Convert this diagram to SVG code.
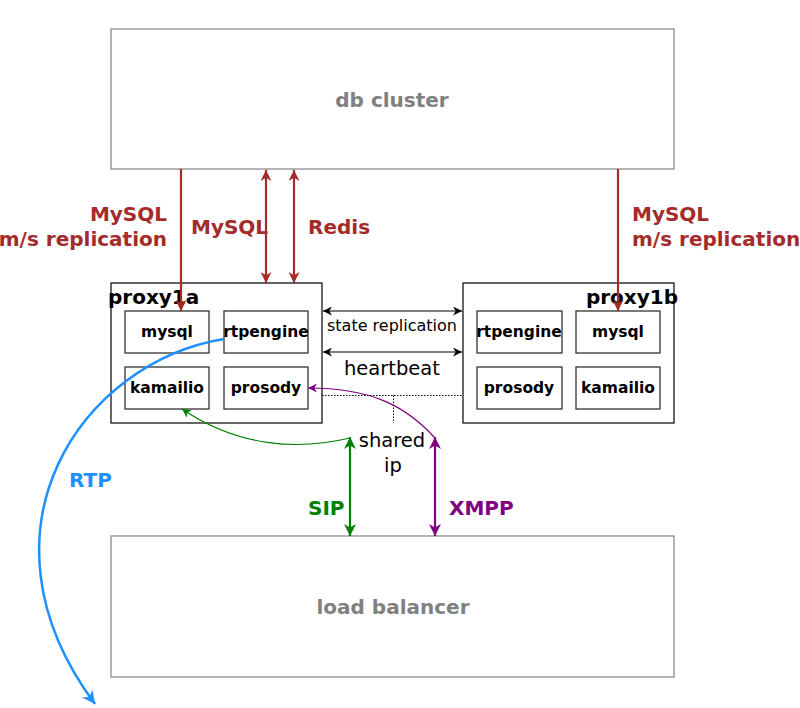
<svg xmlns="http://www.w3.org/2000/svg" width="800" height="708" viewBox="0 0 800 708">
<style>
text{font-family:"DejaVu Sans","Liberation Sans",sans-serif}
.big{fill:none;stroke:#8c8c8c;stroke-width:1.3}
.box{fill:#fff;stroke:#000;stroke-width:1.2}
.sub{fill:#fff;stroke:#222;stroke-width:1.2}
.bt{font-size:20px;font-weight:bold;fill:#808080;text-anchor:middle}
.pt{font-size:20px;font-weight:bold;fill:#000}
.st{font-size:15.5px;font-weight:bold;fill:#000;text-anchor:middle}
.red{stroke:#a52a2a;stroke-width:2.2;fill:none}
.rl{font-size:20px;font-weight:bold;fill:#a52a2a}
.blk{stroke:#000;stroke-width:1.1;fill:none}
.dot{stroke:#000;stroke-width:1;stroke-dasharray:1.5,1.5;fill:none}
.nt{fill:#000;text-anchor:middle}
</style>
<defs>
<marker id="ar" viewBox="0 0 10 10" refX="10" refY="5" markerWidth="12" markerHeight="11" markerUnits="userSpaceOnUse" orient="auto-start-reverse"><path d="M0,0 L10,5 L0,10 L3,5 z" fill="#a52a2a"/></marker>
<marker id="ak" viewBox="0 0 10 10" refX="10" refY="5" markerWidth="10" markerHeight="9" markerUnits="userSpaceOnUse" orient="auto-start-reverse"><path d="M0,0 L10,5 L0,10 L3,5 z" fill="#000"/></marker>
<marker id="ag" viewBox="0 0 10 10" refX="10" refY="5" markerWidth="13" markerHeight="12" markerUnits="userSpaceOnUse" orient="auto-start-reverse"><path d="M0,0 L10,5 L0,10 L3,5 z" fill="#008000"/></marker>
<marker id="ap" viewBox="0 0 10 10" refX="10" refY="5" markerWidth="13" markerHeight="12" markerUnits="userSpaceOnUse" orient="auto-start-reverse"><path d="M0,0 L10,5 L0,10 L3,5 z" fill="#800080"/></marker>
<marker id="ags" viewBox="0 0 10 10" refX="10" refY="5" markerWidth="9" markerHeight="9" markerUnits="userSpaceOnUse" orient="auto"><path d="M0,0 L10,5 L0,10 L3,5 z" fill="#008000"/></marker>
<marker id="aps" viewBox="0 0 10 10" refX="10" refY="5" markerWidth="9" markerHeight="9" markerUnits="userSpaceOnUse" orient="auto"><path d="M0,0 L10,5 L0,10 L3,5 z" fill="#800080"/></marker>
<marker id="ab" viewBox="0 0 10 10" refX="10" refY="5" markerWidth="13" markerHeight="13" markerUnits="userSpaceOnUse" orient="auto"><path d="M0,0 L10,5 L0,10 L3,5 z" fill="#1e90ff"/></marker>
</defs>

<g id="db-cluster">
<rect class="big" x="111" y="29" width="563" height="140"/>
<text class="bt" x="392" y="107">db cluster</text>
</g>

<g id="load-balancer">
<rect class="big" x="111" y="536" width="563" height="141"/>
<text class="bt" x="393" y="614">load balancer</text>
</g>

<g id="proxy1a">
<rect class="box" x="111" y="283" width="211" height="140"/>
<text class="pt" x="108" y="304">proxy1a</text>
<g id="proxy1a-mysql"><rect class="sub" x="125" y="311" width="84" height="42"/><text class="st" x="167" y="337">mysql</text></g>
<g id="proxy1a-rtpengine"><rect class="sub" x="224" y="311" width="84" height="42"/><text class="st" x="266" y="337">rtpengine</text></g>
<g id="proxy1a-kamailio"><rect class="sub" x="125" y="367" width="84" height="42"/><text class="st" x="167" y="393">kamailio</text></g>
<g id="proxy1a-prosody"><rect class="sub" x="224" y="367" width="84" height="42"/><text class="st" x="266" y="393">prosody</text></g>
</g>

<g id="proxy1b">
<rect class="box" x="463" y="283" width="211" height="140"/>
<text class="pt" x="678" y="304" text-anchor="end">proxy1b</text>
<g id="proxy1b-rtpengine"><rect class="sub" x="477" y="311" width="85" height="42"/><text class="st" x="519" y="337">rtpengine</text></g>
<g id="proxy1b-mysql"><rect class="sub" x="576" y="311" width="84" height="42"/><text class="st" x="618" y="337">mysql</text></g>
<g id="proxy1b-prosody"><rect class="sub" x="477" y="367" width="85" height="42"/><text class="st" x="519" y="393">prosody</text></g>
<g id="proxy1b-kamailio"><rect class="sub" x="576" y="367" width="84" height="42"/><text class="st" x="618" y="393">kamailio</text></g>
</g>

<g id="connectors">
<line class="red" x1="181" y1="169" x2="181" y2="311" marker-end="url(#ar)"/>
<line class="red" x1="266" y1="170" x2="266" y2="283" marker-start="url(#ar)" marker-end="url(#ar)"/>
<line class="red" x1="294" y1="170" x2="294" y2="283" marker-start="url(#ar)" marker-end="url(#ar)"/>
<line class="red" x1="618" y1="169" x2="618" y2="311" marker-end="url(#ar)"/>
<text class="rl" x="167" y="221" text-anchor="end">MySQL</text>
<text class="rl" x="167" y="246" text-anchor="end">m/s replication</text>
<text class="rl" x="191" y="234">MySQL</text>
<text class="rl" x="308" y="234">Redis</text>
<text class="rl" x="632" y="221">MySQL</text>
<text class="rl" x="632" y="246">m/s replication</text>

<line class="blk" x1="323" y1="311" x2="462" y2="311" marker-start="url(#ak)" marker-end="url(#ak)"/>
<text class="nt" x="392" y="331" font-size="16">state replication</text>
<line class="blk" x1="323" y1="352" x2="462" y2="352" marker-start="url(#ak)" marker-end="url(#ak)"/>
<text class="nt" x="392" y="375" font-size="19.5">heartbeat</text>
<polyline class="dot" points="322,395.5 463,395.5"/>
<polyline class="dot" points="393.5,395.5 393.5,423"/>
<text class="nt" x="392" y="447" font-size="19.5">shared</text>
<text class="nt" x="393" y="472" font-size="19.5">ip</text>

<line stroke="#008000" stroke-width="2.2" x1="350" y1="437" x2="350" y2="536" marker-start="url(#ag)" marker-end="url(#ag)"/>
<path d="M350,438 C300,450 240,448 182,409" fill="none" stroke="#008000" stroke-width="1.2" marker-end="url(#ags)"/>
<text x="308" y="515" font-size="20" font-weight="bold" fill="#008000">SIP</text>

<line stroke="#800080" stroke-width="2.2" x1="435" y1="437" x2="435" y2="536" marker-start="url(#ap)" marker-end="url(#ap)"/>
<path d="M435,438 C405,405 370,388 308,388" fill="none" stroke="#800080" stroke-width="1.2" marker-end="url(#aps)"/>
<text x="449" y="515" font-size="20" font-weight="bold" fill="#800080">XMPP</text>

<path d="M224,339 C82,362 -34,530 95,704" fill="none" stroke="#1e90ff" stroke-width="2.5" marker-end="url(#ab)"/>
<text x="69" y="487" font-size="20" font-weight="bold" fill="#1e90ff">RTP</text>
</g>
</svg>
